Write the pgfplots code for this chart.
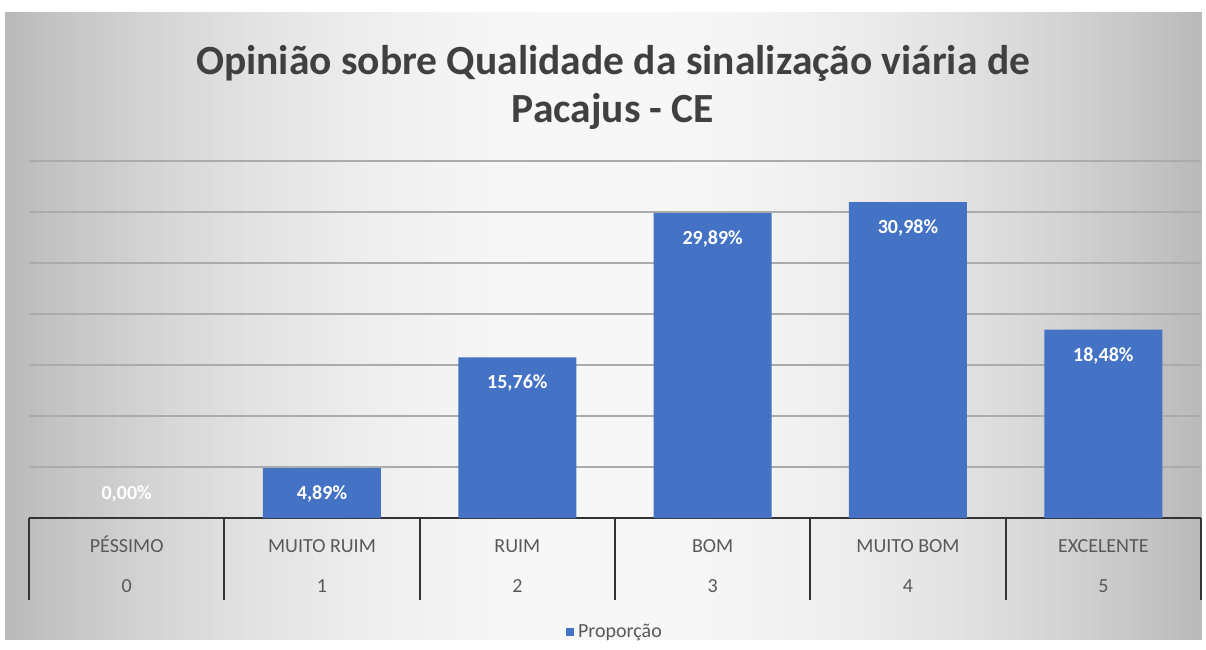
\documentclass[border=0pt]{standalone}
\usepackage{pgfplots}
\pgfplotsset{compat=1.18}
\usepackage{fontspec}
\setmainfont{Carlito}
\definecolor{barblue}{HTML}{4472C4}
\definecolor{titlegray}{HTML}{404040}
\definecolor{labelgray}{HTML}{595959}
\definecolor{gridgray}{HTML}{ABABAB}
\newcommand{\Ls}{\rule{0pt}{17pt}}
\begin{document}
\begin{tikzpicture}[x=1pt,y=1pt]
\useasboundingbox (0,0) rectangle (1206,649);
\fill[white] (0,0) rectangle (1206,649);
% background gradient (decoration)
\foreach \i in {0,...,119}{
  \pgfmathsetmacro{\d}{abs(\i-59.5)/59.5}
  \pgfmathsetmacro{\p}{3+24*\d*\d}
  \pgfmathsetmacro{\xa}{5+\i*9.975}
  \pgfmathsetmacro{\xb}{\xa+10.2}
  \fill[black!\p] (\xa,9) rectangle (\xb,637);
}
\node[font=\fontsize{41.5}{48}\selectfont\bfseries, text=titlegray, align=center] at (613,562)
  {Opinião sobre Qualidade da sinalização viária de\\Pacajus - CE};
\begin{axis}[
  at={(29pt,131pt)}, anchor=south west,
  scale only axis, width=1172pt, height=357pt,
  xmin=-0.5, xmax=5.5, ymin=0, ymax=35,
  clip=false,
  axis x line*=bottom, axis y line*=left,
  x axis line style={draw=black!80, line width=1.6pt},
  y axis line style={draw=none},
  ytick={5,10,...,35}, yticklabels={},
  ytick style={draw=none},
  ymajorgrids, grid style={draw=gridgray, line width=1.3pt},
  major tick length=0pt,
  xtick={0,1,2,3,4,5},
  xticklabels={{\Ls PÉSSIMO\\[17pt]0},{\Ls MUITO RUIM\\[17pt]1},{\Ls RUIM\\[17pt]2},{\Ls BOM\\[17pt]3},{\Ls MUITO BOM\\[17pt]4},{\Ls EXCELENTE\\[17pt]5}},
  xtick style={draw=none},
  xticklabel style={anchor=north, yshift=-14pt, align=center, text=labelgray,
      font=\fontsize{20}{23}\selectfont},
  nodes near coords={\pgfmathprintnumber[fixed,fixed zerofill,precision=2,use comma,assume math mode=true]{\pgfplotspointmeta}\%},
  nodes near coords style={text=white, font=\fontsize{20}{23}\selectfont\bfseries, anchor=center},
  legend style={at={(0.5,-0.319)}, anchor=center, draw=none, fill=none,
    font=\fontsize{20}{23}\selectfont, text=labelgray},
  legend image code/.code={\fill[barblue] (0pt,-4pt) rectangle (8pt,4pt); \path (0pt,0pt) -- (10pt,0pt);},
]
\addplot[ybar, bar width=118pt, bar shift=0pt, fill=barblue, draw=none,
  nodes near coords style={yshift=-26pt}]
  coordinates {(1,4.89) (2,15.76) (3,29.89) (4,30.98) (5,18.48)};
\addlegendentry{Proporção}
\addplot[ybar, bar width=118pt, bar shift=0pt, fill=barblue, draw=none, forget plot,
  nodes near coords style={yshift=24pt}]
  coordinates {(0,0)};
% category dividers of the axis table
\pgfplotsinvokeforeach{-0.5,0.5,1.5,2.5,3.5,4.5,5.5}{
  \draw[black!80, line width=1.8pt] (axis cs:#1,0) -- ++(0pt,-82pt);
}
\end{axis}
\end{tikzpicture}
\end{document}
